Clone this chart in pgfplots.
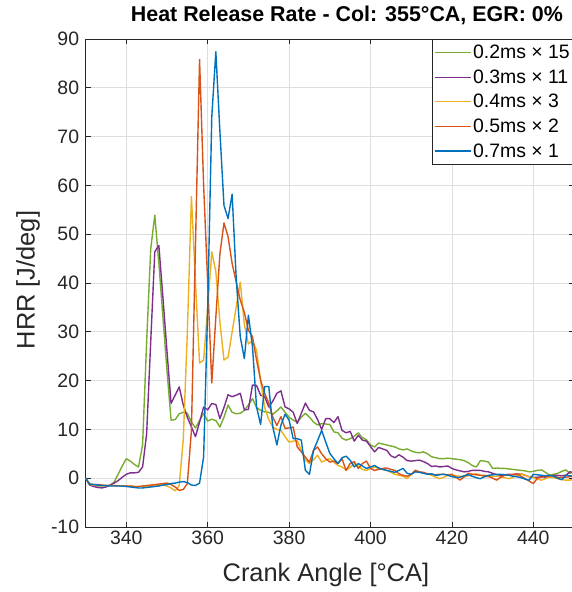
\documentclass[border=0pt]{standalone}
\usepackage{fontspec}
\setmainfont{Liberation Sans}
\usepackage{pgfplots}
\pgfplotsset{compat=1.18}
\definecolor{mblue}{rgb}{0,0.447,0.741}
\definecolor{morange}{rgb}{0.85,0.325,0.098}
\definecolor{myellow}{rgb}{0.929,0.694,0.125}
\definecolor{mpurple}{rgb}{0.494,0.184,0.556}
\definecolor{mgreen}{rgb}{0.466,0.674,0.188}
\definecolor{axgray}{rgb}{0.15,0.15,0.15}
\begin{document}
\begin{tikzpicture}
\begin{axis}[name=ax, scale only axis, width=488.4bp, height=488bp,
  xmin=330, xmax=450, ymin=-10, ymax=90,
  xtick={340,360,...,440}, ytick={-10,0,...,90},
  grid=major, major grid style={line width=0.6bp, color=black!13},
  axis line style={line width=0.7bp, color=axgray},
  tick style={line width=0.7bp, color=axgray},
  tick align=inside, major tick length=5bp,
  /pgf/number format/assume math mode=true,
  tick label style={font=\fontsize{19.5}{22}\selectfont, text=axgray},
  yticklabel style={xshift=-3bp},
  xlabel={Crank Angle [°CA]}, ylabel={HRR [J/deg]},
  label style={font=\fontsize{25.5}{28}\selectfont, text=axgray},
  xlabel style={at={(rel axis cs:0.492,-0.098)}, anchor=center},
  ylabel style={at={(rel axis cs:-0.118,0.506)}, anchor=center},
  title={Heat Release Rate - Col: 355°CA, EGR: 0\%},
  title style={font=\bfseries\fontsize{21.5}{24}\selectfont, at={(rel axis cs:0.535,1)}, anchor=south, yshift=5bp},
  no markers,
  every axis plot/.append style={line width=1.4bp, line join=round},
  legend cell align=left,
  legend style={at={(rel axis cs:1,1)}, anchor=north east, draw=axgray, line width=0.6bp,
    font=\fontsize{19.5}{22}\selectfont, row sep=5.5bp, inner xsep=2bp, inner ysep=4bp},
  legend image code/.code={\draw[#1, line width=1.1bp] (0bp,0bp) -- (36bp,0bp);},
]
\addplot[mgreen] coordinates {
(330,0)(331,-1.4)(332,-1.5)(333,-1.6)(334,-1.6)(335,-1.5)(336,-1.5)(337,-0.8)(338,0.8)(339,2.5)
(340,4.0)(341,3.5)(342,2.8)(343,2.3)(344,6.8)(345,28)(346,47)(347,53.9)(348,44)(349,33)
(350,22)(351,11.9)(352,12.0)(353,13.2)(354,13.5)(355,13.3)(356,11.5)(357,10.3)(358,11.8)(359,13.3)
(360,11.7)(361,12.1)(362,11.8)(363,10.5)(364,12.5)(365,15.0)(366,13.5)(367,13.2)(368,13.3)(369,13.9)
(370,15.0)(371,16.3)(372,14.5)(373,13.9)(374,13.6)(375,13.5)(376,13.1)(377,13.8)(378,14.6)(379,13.5)
(380,12.5)(381,11.9)(382,11.5)(383,12.5)(384,13.3)(385,12.5)(386,11.5)(387,10.9)(388,11.2)(389,11.1)
(390,11.0)(391,9.5)(392,9.3)(393,8.2)(394,7.8)(395,8.1)(396,8.6)(397,9.3)(398,8.3)(399,7.9)
(400,6.8)(401,6.4)(402,7.2)(403,7.0)(404,6.8)(405,6.6)(406,6.4)(407,6.0)(408,5.8)(409,6.0)
(410,5.6)(411,5.3)(412,5.2)(413,5.4)(414,5.0)(415,4.4)(416,4.2)(417,4.0)(418,4.0)(419,4.1)
(420,4.0)(421,3.9)(422,3.8)(423,3.6)(424,3.2)(425,2.6)(426,2.3)(427,3.6)(428,3.5)(429,3.3)
(430,2.0)(431,2.1)(432,2.0)(433,2.0)(434,1.9)(435,1.8)(436,1.7)(437,1.6)(438,1.5)(439,1.3)
(440,1.4)(441,1.6)(442,1.7)(443,1.2)(444,0.6)(445,0.8)(446,1.0)(447,1.4)(448,1.7)(449,1.0)(450,1.3)
};
\addlegendentry{0.2ms × 15}
\addplot[mpurple] coordinates {
(330,0)(331,-1.4)(332,-1.7)(333,-1.9)(334,-2.0)(335,-1.8)(336,-1.4)(337,-1.0)(338,-0.5)(339,0.2)
(340,0.8)(341,1.1)(342,1.1)(343,1.2)(344,2.3)(345,9.1)(346,28)(347,46.4)(348,47.7)(349,37)
(350,26)(351,15.3)(352,17.0)(353,18.7)(354,15.0)(355,12.5)(356,10.5)(357,8.5)(358,11.5)(359,14.6)
(360,14.0)(361,15.3)(362,15.1)(363,12.2)(364,14.5)(365,17.1)(366,16.7)(367,17.0)(368,17.4)(369,14.0)
(370,14.1)(371,19.1)(372,19.0)(373,17.0)(374,16.7)(375,14.6)(376,15.8)(377,17.4)(378,17.9)(379,14.6)
(380,14.2)(381,13.5)(382,11.2)(383,13.3)(384,15.4)(385,13.9)(386,13.6)(387,12.0)(388,10.0)(389,12.2)
(390,12.2)(391,11.4)(392,12.6)(393,9.8)(394,9.3)(395,9.6)(396,7.6)(397,8.8)(398,7.8)(399,7.6)
(400,6.5)(401,5.4)(402,6.3)(403,6.0)(404,5.7)(405,4.6)(406,4.2)(407,4.8)(408,4.3)(409,3.6)
(410,3.5)(411,3.6)(412,3.7)(413,3.4)(414,3.0)(415,2.4)(416,2.5)(417,2.3)(418,2.4)(419,2.5)
(420,2.0)(421,1.7)(422,1.5)(423,1.3)(424,1.4)(425,1.6)(426,1.6)(427,1.6)(428,1.4)(429,1.3)
(430,1.0)(431,0.7)(432,0.6)(433,0.7)(434,0.8)(435,0.7)(436,0.8)(437,0.9)(438,0.6)(439,0.3)
(440,0.2)(441,0.2)(442,0.3)(443,0.2)(444,0.4)(445,0.6)(446,0.6)(447,0.5)(448,0.6)(449,1.3)(450,1.2)
};
\addlegendentry{0.3ms × 11}
\addplot[myellow] coordinates {
(330,0)(331,-1.3)(332,-1.4)(333,-1.5)(334,-1.5)(335,-1.5)(336,-1.5)(337,-1.5)(338,-1.5)(339,-1.6)
(340,-1.6)(341,-1.6)(342,-1.7)(343,-1.7)(344,-1.7)(345,-1.7)(346,-1.6)(347,-1.5)(348,-1.4)(349,-1.4)
(350,-1.6)(351,-2.0)(352,-2.6)(353,-1.5)(354,8)(355,30)(356,57.7)(357,40)(358,23.6)(359,24.2)
(360,35)(361,46.4)(362,42.3)(363,32)(364,24.2)(365,24.8)(366,30)(367,35)(368,40.2)(369,31.5)
(370,27.5)(371,28.2)(372,26.2)(373,20)(374,14.5)(375,12)(376,10.5)(377,10.0)(378,9.8)(379,8.5)
(380,7.4)(381,7.6)(382,7.7)(383,5.7)(384,3.7)(385,3.0)(386,3.8)(387,4.7)(388,3.3)(389,3.7)
(390,4.0)(391,3.3)(392,2.6)(393,2.3)(394,1.7)(395,2.2)(396,3.0)(397,2.5)(398,1.8)(399,1.6)
(400,2.0)(401,2.3)(402,2.0)(403,1.8)(404,1.6)(405,1.2)(406,0.8)(407,0.6)(408,0.4)(409,-0.1)
(410,0.8)(411,1.6)(412,1.3)(413,1.1)(414,0.9)(415,0.6)(416,0.2)(417,-0.1)(418,0.2)(419,0.6)
(420,0.6)(421,0.5)(422,0.4)(423,0.3)(424,0.5)(425,0.8)(426,0.9)(427,0.6)(428,0.3)(429,0.3)
(430,0.4)(431,0.4)(432,0.3)(433,0.1)(434,-0.1)(435,0.2)(436,0.6)(437,0.9)(438,0.6)(439,0.3)
(440,0.1)(441,-0.2)(442,-0.4)(443,-0.1)(444,0.2)(445,0.1)(446,-0.1)(447,-0.3)(448,-0.4)(449,-0.4)(450,-0.2)
};
\addlegendentry{0.4ms × 3}
\addplot[morange] coordinates {
(330,0)(331,-1.2)(332,-1.3)(333,-1.3)(334,-1.4)(335,-1.5)(336,-1.5)(337,-1.5)(338,-1.6)(339,-1.6)
(340,-1.6)(341,-1.6)(342,-1.7)(343,-1.7)(344,-1.6)(345,-1.5)(346,-1.4)(347,-1.3)(348,-1.2)(349,-1.1)
(350,-1.0)(351,-1.3)(352,-1.8)(353,-2.5)(354,-2.3)(355,-1.1)(356,9.8)(357,48)(358,85.8)(359,60)
(360,40)(361,19.5)(362,33)(363,46)(364,52.3)(365,49.5)(366,44)(367,40.2)(368,36.5)(369,34)
(370,30.3)(371,29)(372,24.2)(373,20.1)(374,17.4)(375,15.4)(376,12.5)(377,10.8)(378,12.6)(379,10.2)
(380,10.3)(381,10.5)(382,6.4)(383,5.4)(384,4.3)(385,3.3)(386,5.7)(387,6.4)(388,5.0)(389,4.0)
(390,3.3)(391,3.5)(392,3.0)(393,4.0)(394,1.6)(395,3.0)(396,3.4)(397,2.0)(398,3.0)(399,3.5)
(400,2.0)(401,1.6)(402,1.8)(403,2.0)(404,2.1)(405,1.8)(406,1.6)(407,0.9)(408,0.6)(409,0.4)
(410,0.8)(411,1.6)(412,1.3)(413,1.2)(414,0.9)(415,0.8)(416,0.7)(417,0.8)(418,0.8)(419,0.7)
(420,0.8)(421,0.2)(422,-0.4)(423,0.3)(424,1.0)(425,0.8)(426,0.7)(427,0.6)(428,0.6)(429,0.4)
(430,0.0)(431,-0.4)(432,0.2)(433,0.6)(434,0.7)(435,0.8)(436,0.9)(437,0.4)(438,-0.1)(439,-0.6)
(440,-1.1)(441,0.0)(442,0.2)(443,0.4)(444,0.6)(445,0.4)(446,0.2)(447,0.2)(448,0.2)(449,0.3)(450,0.4)
};
\addlegendentry{0.5ms × 2}
\addplot[mblue] coordinates {
(330,0)(331,-1.2)(332,-1.3)(333,-1.4)(334,-1.5)(335,-1.5)(336,-1.6)(337,-1.6)(338,-1.6)(339,-1.6)
(340,-1.7)(341,-1.8)(342,-1.9)(343,-2.0)(344,-2.0)(345,-1.9)(346,-1.8)(347,-1.7)(348,-1.6)(349,-1.4)
(350,-1.3)(351,-1.1)(352,-1.0)(353,-0.8)(354,-0.7)(355,-0.9)(356,-1.4)(357,-1.5)(358,-1.0)(359,4.4)
(360,35)(361,74)(362,87.4)(363,71)(364,55.9)(365,53.2)(366,58.2)(367,41)(368,29)(369,24.5)
(370,33.4)(371,27)(372,14.6)(373,11)(374,18.8)(375,18.8)(376,10.5)(377,6.8)(378,10.9)(379,13.1)
(380,11.9)(381,8.1)(382,8.1)(383,7.8)(384,1.6)(385,0.8)(386,5.7)(387,7.7)(388,9.8)(389,7.4)
(390,5.1)(391,4.0)(392,3.0)(393,4.2)(394,4.5)(395,3.7)(396,2.3)(397,3.0)(398,2.5)(399,2.0)
(400,2.3)(401,2.6)(402,2.1)(403,1.8)(404,1.6)(405,1.4)(406,1.2)(407,1.6)(408,2.0)(409,1.0)
(410,0.8)(411,1.3)(412,1.2)(413,1.0)(414,0.8)(415,0.9)(416,0.6)(417,0.7)(418,0.8)(419,0.6)
(420,0.3)(421,0.2)(422,0.2)(423,0.5)(424,0.7)(425,0.4)(426,0.1)(427,-0.1)(428,0.3)(429,0.6)
(430,0.7)(431,0.8)(432,0.8)(433,0.7)(434,0.6)(435,0.4)(436,0.3)(437,0.1)(438,-0.2)(439,-0.4)
(440,0.8)(441,0.7)(442,0.6)(443,0.5)(444,0.6)(445,0.4)(446,0.0)(447,-0.3)(448,0.6)(449,0.5)(450,0.4)
};
\addlegendentry{0.7ms × 1}
\end{axis}
\pgfresetboundingbox
\path[use as bounding box] ([shift={(-85.6bp,-65bp)}]ax.south west) rectangle ([shift={(-3bp,39bp)}]ax.north east);
\end{tikzpicture}
\end{document}
